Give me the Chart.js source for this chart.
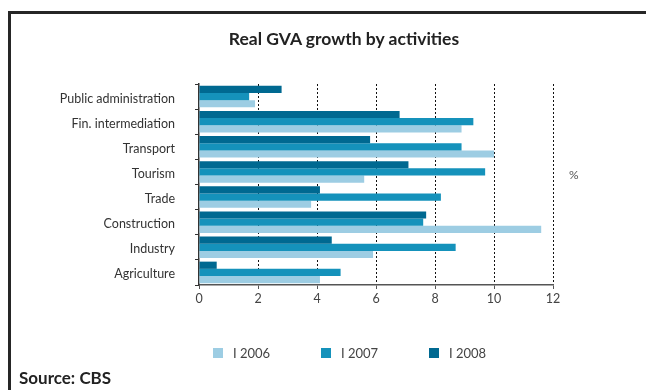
<!DOCTYPE html>
<html>
<head>
<meta charset="utf-8">
<script src="https://cdn.jsdelivr.net/npm/chart.js@4"></script>
<style>
  html, body { margin: 0; padding: 0; background: #fff; }
  #wrap { position: relative; width: 646px; height: 390px; overflow: hidden; font-family: Lato, "Liberation Sans", sans-serif; }
  #frame { position: absolute; left: 8px; top: 11px; width: 700px; height: 400px; border-left: 3px solid #262626; border-top: 3px solid #262626; }
  #chart { position: absolute; left: 0; top: 0; }
  #title { position: absolute; left: 194px; width: 300px; top: 28px; text-align: center; font-weight: bold; font-size: 17.5px; color: #222; }
  #unit { position: absolute; left: 569px; top: 167px; font-size: 12px; color: #555; }
  #legend { position: absolute; left: 213px; top: 345px; display: flex; }
  #legend .item { width: 108px; display: flex; align-items: center; font-size: 13px; color: #444; }
  #legend .box { width: 10px; height: 10px; margin-right: 10px; }
  #source { position: absolute; left: 19px; top: 367px; font-weight: bold; font-size: 17px; color: #222; }
</style>
</head>
<body>
<div id="wrap">
  <div id="frame"></div>
  <canvas id="chart" width="646" height="390"></canvas>
  <div id="title">Real GVA growth by activities</div>
  <div id="unit">%</div>
  <div id="legend"></div>
  <div id="source">Source: CBS</div>
</div>
<script>
// activities, top to bottom
const categories = ['Public administration', 'Fin. intermediation', 'Transport', 'Tourism', 'Trade', 'Construction', 'Industry', 'Agriculture'];

// real growth, %
const i2006 = [1.9, 8.9, 10.0, 5.6, 3.8, 11.6, 5.9, 4.1];
const i2007 = [1.7, 9.3, 8.9, 9.7, 8.2, 7.6, 8.7, 4.8];
const i2008 = [2.8, 6.8, 5.8, 7.1, 4.1, 7.7, 4.5, 0.6];

const xMax = 12;
const xStep = 2;

// 2008 goes first so it sits on top of each group
const datasets = [
  { label: 'I 2008', data: i2008, backgroundColor: '#006991' },
  { label: 'I 2007', data: i2007, backgroundColor: '#1592bb' },
  { label: 'I 2006', data: i2006, backgroundColor: '#9dcde3' }
];

const ctx = document.getElementById('chart').getContext('2d');
const chart = new Chart(ctx, {
  type: 'bar',
  data: { labels: categories, datasets: datasets },
  options: {
    indexAxis: 'y',
    responsive: false,
    animation: false,
    layout: { padding: { left: 0, right: 93, top: 84, bottom: 75 } },
    datasets: {
      bar: { categoryPercentage: 0.86, barPercentage: 1.0, borderWidth: 0 }
    },
    scales: {
      x: {
        min: 0,
        max: xMax,
        ticks: { stepSize: xStep, padding: 2, color: '#444', font: { family: 'Lato', size: 12.5 } },
        grid: {
          color: c => (c.index === 0 ? 'rgba(0,0,0,0)' : '#111'),
          tickColor: '#555',
          tickLength: 4,
          lineWidth: 1
        },
        border: { color: '#555', width: 1.5, dash: [2, 2] },
        afterFit: s => { s.height = 30; }
      },
      y: {
        ticks: { padding: 20, labelOffset: 2, color: '#333', font: { family: 'Lato', size: 12.5 } },
        grid: { offset: true, drawOnChartArea: false, tickLength: 4, color: '#333' },
        border: { color: '#333', width: 1.5 },
        afterFit: s => { s.width = 199; }
      }
    },
    plugins: {
      legend: { display: false },
      title: { display: false },
      tooltip: { enabled: false }
    }
  }
});

// legend in the order 2006, 2007, 2008
const legendEl = document.getElementById('legend');
chart.data.datasets.slice().reverse().forEach(ds => {
  const item = document.createElement('div');
  item.className = 'item';
  const box = document.createElement('span');
  box.className = 'box';
  box.style.background = ds.backgroundColor;
  item.appendChild(box);
  item.appendChild(document.createTextNode(ds.label));
  legendEl.appendChild(item);
});
</script>
</body>
</html>
